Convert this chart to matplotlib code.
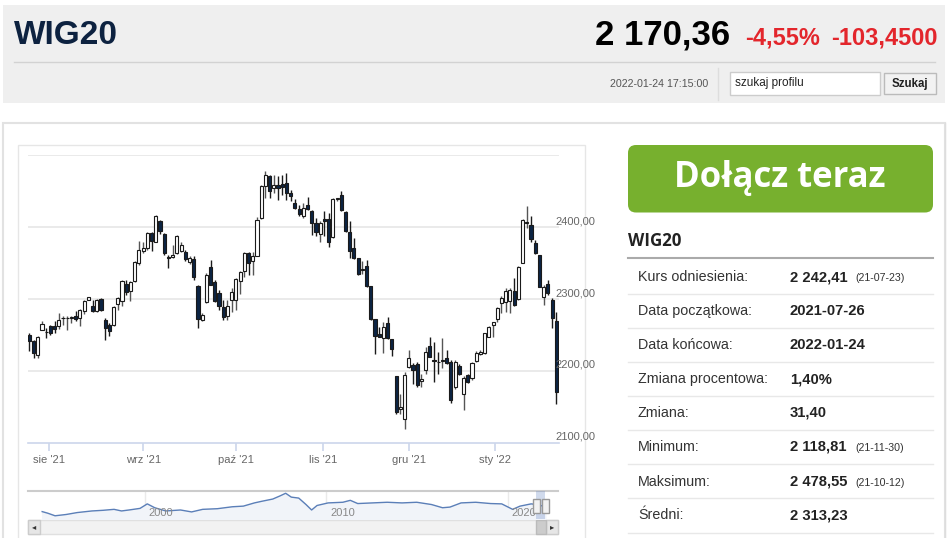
import matplotlib
matplotlib.use('Agg')
import matplotlib.pyplot as plt
from matplotlib.patches import Rectangle, FancyBboxPatch
import numpy as np
import pandas as pd

W, H = 948, 538

opens = [2250.5, 2241.0, 2222.7, 2257.4, 2254.5, 2262.0, 2262.0, 2262.0, 2273.0, 2273.0,
         2274.0, 2276.9, 2273.6, 2282.9, 2299.1, 2290.7, 2282.9, 2300.0, 2271.3, 2264.4,
         2264.4, 2293.1, 2296.8, 2321.3, 2310.6, 2324.5, 2350.0, 2366.2, 2370.8, 2391.7,
         2379.2, 2407.9, 2390.3, 2358.3, 2358.7, 2363.8, 2367.1, 2366.1, 2351.3, 2355.9,
         2317.4, 2271.0, 2295.6, 2345.2, 2323.4, 2308.1, 2288.6, 2277.0, 2298.8, 2298.8,
         2324.4, 2339.2, 2363.8, 2352.2, 2360.1, 2412.5, 2456.6, 2470.5, 2454.3, 2458.0,
         2459.9, 2461.3, 2447.3, 2434.0, 2425.6, 2415.4, 2430.3, 2422.4, 2406.1, 2391.1,
         2411.7, 2411.7, 2386.5, 2438.7, 2444.3, 2421.0, 2393.0, 2371.1, 2357.1, 2339.9,
         2346.4, 2317.5, 2271.8, 2251.3, 2245.2, 2267.1, 2243.8, 2192.5, 2147.0, 2133.3,
         2205.6, 2207.9, 2209.3, 2185.6, 2200.9, 2234.9, 2214.5, 2213.0, 2213.5, 2217.2,
         2212.6, 2177.7, 2206.5, 2168.4, 2194.0, 2190.7, 2214.0, 2223.3, 2225.1, 2246.5,
         2263.7, 2271.6, 2294.0, 2296.3, 2297.7, 2311.6, 2299.5, 2350.7, 2406.0, 2403.3,
         2378.6, 2361.4, 2303.3, 2320.9, 2298.6, 2269.8]
highs = [2252.8, 2242.6, 2249.1, 2269.0, 2259.7, 2264.4, 2269.0, 2280.6, 2275.9, 2276.9,
         2276.9, 2282.9, 2286.1, 2299.1, 2303.2, 2298.1, 2300.0, 2301.4, 2273.6, 2266.7,
         2289.8, 2302.8, 2326.9, 2325.9, 2324.5, 2352.3, 2380.1, 2378.7, 2392.6, 2392.6,
         2417.1, 2410.2, 2391.6, 2361.5, 2375.4, 2388.4, 2379.1, 2368.4, 2359.2, 2359.2,
         2318.8, 2280.3, 2336.0, 2354.5, 2326.7, 2312.8, 2298.8, 2298.8, 2316.0, 2329.0,
         2338.3, 2365.2, 2365.2, 2366.1, 2413.5, 2458.0, 2478.4, 2472.9, 2472.9, 2470.5,
         2472.9, 2475.2, 2452.0, 2438.7, 2430.3, 2433.1, 2442.4, 2423.8, 2413.1, 2408.4,
         2422.4, 2420.0, 2441.0, 2441.0, 2450.3, 2422.4, 2408.4, 2385.1, 2357.1, 2352.4,
         2354.8, 2317.5, 2271.8, 2261.5, 2268.5, 2275.5, 2243.8, 2192.5, 2168.3, 2198.6,
         2228.9, 2211.2, 2212.6, 2196.3, 2233.5, 2247.4, 2240.5, 2226.5, 2245.1, 2228.8,
         2214.9, 2214.9, 2210.2, 2192.6, 2196.3, 2212.6, 2227.9, 2228.8, 2253.0, 2262.3,
         2267.9, 2289.3, 2304.2, 2314.9, 2314.9, 2328.8, 2346.0, 2411.2, 2428.8, 2414.9,
         2382.3, 2361.4, 2319.5, 2326.5, 2300.9, 2282.3]
lows = [2227.3, 2218.1, 2218.1, 2256.5, 2245.8, 2250.5, 2252.8, 2258.3, 2264.4, 2257.4,
        2266.7, 2269.0, 2262.0, 2279.6, 2298.1, 2281.5, 2281.5, 2282.9, 2242.6, 2249.1,
        2262.0, 2284.3, 2289.8, 2306.0, 2296.8, 2323.1, 2347.7, 2363.9, 2367.6, 2366.2,
        2378.7, 2391.0, 2361.5, 2342.9, 2356.8, 2362.4, 2365.2, 2352.2, 2348.5, 2326.7,
        2260.3, 2269.6, 2294.2, 2318.8, 2295.6, 2284.9, 2271.0, 2271.0, 2282.6, 2284.9,
        2306.7, 2331.3, 2333.6, 2333.6, 2359.2, 2411.6, 2440.4, 2440.4, 2447.3, 2438.1,
        2445.0, 2438.1, 2436.7, 2424.7, 2415.4, 2413.1, 2423.8, 2389.7, 2387.4, 2379.0,
        2387.4, 2372.5, 2385.1, 2436.0, 2422.4, 2393.0, 2357.1, 2355.7, 2333.8, 2335.2,
        2316.6, 2270.9, 2223.3, 2246.6, 2225.2, 2243.8, 2220.5, 2140.3, 2140.3, 2118.8,
        2203.3, 2182.3, 2177.7, 2177.7, 2196.3, 2218.6, 2184.7, 2196.3, 2203.3, 2210.2,
        2155.3, 2175.3, 2194.0, 2145.1, 2183.3, 2187.0, 2212.6, 2221.9, 2223.3, 2247.4,
        2247.4, 2268.4, 2280.0, 2282.3, 2280.9, 2290.2, 2298.6, 2349.8, 2398.6, 2380.0,
        2362.8, 2316.3, 2291.6, 2305.6, 2259.1, 2154.4]
closes = [2241.2, 2225.0, 2246.8, 2265.7, 2253.5, 2252.8, 2258.3, 2271.3, 2274.0, 2274.0,
          2274.8, 2272.2, 2285.2, 2296.8, 2302.3, 2282.9, 2299.1, 2285.2, 2259.7, 2255.1,
          2288.9, 2301.4, 2325.5, 2309.3, 2323.1, 2350.9, 2367.6, 2370.8, 2391.7, 2380.1,
          2415.7, 2394.0, 2363.8, 2357.5, 2361.5, 2387.0, 2375.4, 2355.5, 2356.8, 2331.3,
          2272.4, 2278.0, 2333.6, 2319.7, 2297.4, 2289.6, 2275.6, 2289.6, 2310.4, 2328.1,
          2337.4, 2363.8, 2349.9, 2359.2, 2410.2, 2456.6, 2472.9, 2450.6, 2459.0, 2454.3,
          2455.2, 2447.3, 2442.7, 2427.0, 2417.7, 2427.0, 2425.6, 2406.1, 2393.0, 2406.1,
          2407.9, 2379.0, 2439.6, 2440.6, 2423.8, 2394.4, 2366.4, 2357.1, 2335.2, 2341.7,
          2317.5, 2271.8, 2248.5, 2247.6, 2260.6, 2245.2, 2229.8, 2142.7, 2149.0, 2193.9,
          2217.2, 2200.9, 2180.0, 2189.3, 2226.5, 2219.5, 2213.5, 2212.0, 2214.5, 2211.2,
          2160.0, 2212.6, 2195.3, 2190.7, 2184.7, 2211.2, 2225.1, 2226.5, 2252.1, 2261.4,
          2267.4, 2287.0, 2300.9, 2311.6, 2312.6, 2291.6, 2345.1, 2410.2, 2406.8, 2383.3,
          2364.7, 2317.2, 2317.2, 2308.8, 2273.0, 2170.4]

holidays = ['2021-11-01', '2021-11-11', '2021-12-24', '2021-12-31', '2022-01-06']
dates = pd.bdate_range('2021-07-26', '2022-01-24')
dates = dates[~dates.isin(pd.to_datetime(holidays))]

month_starts = ['2021-08-01', '2021-09-01', '2021-10-01', '2021-11-01', '2021-12-01', '2022-01-01']
month_labels = ["sie '21", "wrz '21", "paź '21", "lis '21", "gru '21", "sty '22"]
price_ticks = [2100, 2200, 2300, 2400]
grid_levels = [2200, 2300, 2400, 2500]

# nawigator - cala historia indeksu (odczyt z miniatury)
nav_years = [1994.35, 1994.66, 1995.06, 1995.67, 1996.28, 1997.09, 1997.70, 1998.31, 1998.72,
             1999.13, 1999.74, 2000.14, 2000.55, 2001.16, 2001.97, 2002.58, 2003.19, 2004.00,
             2004.82, 2005.43, 2006.04, 2006.44, 2007.05, 2007.46, 2007.76, 2008.07, 2008.48,
             2008.88, 2009.19, 2009.49, 2010.10, 2010.91, 2011.32, 2011.73, 2012.54, 2013.35,
             2014.17, 2014.98, 2015.79, 2016.40, 2016.81, 2017.42, 2018.23, 2019.05, 2019.66,
             2020.26, 2020.67, 2021.28, 2021.59, 2022.06]
nav_vals = [1538, 1331, 1000, 1166, 1414, 1621, 1704, 1828, 1621, 1745,
            1952, 2532, 2035, 1621, 1745, 1497, 1828, 1911, 2159, 2242,
            2656, 2863, 3153, 3567, 3898, 3401, 3277, 2449, 1745, 2325,
            2656, 2739, 2987, 2573, 2656, 2739, 2656, 2739, 2449, 2035,
            2118, 2656, 2739, 2573, 2532, 1828, 2242, 2532, 2449, 2170]
nav_year_ticks = [2000, 2010, 2020]

stat_labels = ['Kurs odniesienia:', 'Data początkowa:', 'Data końcowa:', 'Zmiana procentowa:',
               'Zmiana:', 'Minimum:', 'Maksimum:', 'Średni:']
stat_values = ['2 242,41', '2021-07-26', '2022-01-24', '1,40%', '31,40', '2 118,81', '2 478,55', '2 313,23']
stat_dates = ['(21-07-23)', '', '', '', '', '(21-11-30)', '(21-10-12)', '']

o = np.array(opens); h = np.array(highs); l = np.array(lows); c = np.array(closes)
n = len(o)
idx = np.arange(n)
assert len(dates) == n

SANS = ['Liberation Sans', 'DejaVu Sans']
OPEN = ['Open Sans', 'DejaVu Sans']

fig = plt.figure(figsize=(W / 100, H / 100), dpi=100)
fig.patch.set_facecolor('white')

# tlo strony w pikselach
bg = fig.add_axes([0, 0, 1, 1])
bg.set_xlim(0, W)
bg.set_ylim(H, 0)
bg.axis('off')


def px_axes(x0, y0, x1, y1):
    return fig.add_axes([x0 / W, 1 - y1 / H, (x1 - x0) / W, (y1 - y0) / H])


# naglowek
bg.add_patch(Rectangle((3, 5), 942, 98, facecolor='#efefef', edgecolor='none'))
bg.text(14, 35, 'WIG20', fontsize=24, fontweight='bold', color='#0d2240', family=SANS, va='center')
bg.text(730, 35, '2 170,36', fontsize=25, fontweight='bold', color='black', family=SANS, va='center', ha='right')
bg.text(745, 38, '-4,55%', fontsize=17, fontweight='bold', color='#e3262c', family=SANS, va='center')
bg.text(938, 38, '-103,4500', fontsize=17, fontweight='bold', color='#e3262c', family=SANS, va='center', ha='right')
bg.plot([14, 935], [62, 62], color='#d2d2d2', lw=1)
bg.plot([718, 718], [68, 100], color='#dddddd', lw=1)
bg.text(708, 84, '2022-01-24 17:15:00', fontsize=7.7, color='#555555', family=SANS, va='center', ha='right')
bg.add_patch(Rectangle((730, 72), 150, 23, facecolor='white', edgecolor='#cccccc', lw=1))
bg.text(735, 83, 'szukaj profilu', fontsize=8.5, color='#222222', family=SANS, va='center')
bg.add_patch(Rectangle((884, 73), 52, 21, facecolor='#f2f2f2', edgecolor='#bbbbbb', lw=1))
bg.text(910, 84, 'Szukaj', fontsize=8.3, fontweight='bold', color='#222222', family=SANS, va='center', ha='center')

# ramki tresci
bg.add_patch(Rectangle((3, 123), 942, 420, facecolor='white', edgecolor='#e2e2e2', lw=1.5))
bg.add_patch(Rectangle((18, 145), 567, 400, facecolor='white', edgecolor='#e6e6e6', lw=1))

# panel po prawej
bg.add_patch(FancyBboxPatch((628, 145), 305, 67.5, boxstyle='round,pad=0,rounding_size=8',
                            facecolor='#77b02e', edgecolor='none'))
bg.text(780, 178, 'Dołącz teraz', fontsize=25, fontweight='bold', color='white', family=OPEN,
        va='center', ha='center')
bg.text(628, 241, 'WIG20', fontsize=12.2, fontweight='bold', color='#222222', family=OPEN, va='center')
bg.plot([628, 933], [258.3, 258.3], color='#aaaaaa', lw=1.5)
row_y = [277, 311, 345, 379.5, 412.7, 446.7, 481.5, 515]
sep_y = [294, 328, 362, 396, 430, 464, 498, 532.7]
for lab, val, dt, ry, sy in zip(stat_labels, stat_values, stat_dates, row_y, sep_y):
    bg.text(638, ry, lab, fontsize=10.3, color='#333333', family=SANS, va='center')
    bg.text(790, ry, val, fontsize=10.6, fontweight='bold', color='#222222', family=SANS, va='center')
    if dt:
        bg.text(855, ry + 1, dt, fontsize=7.7, color='#333333', family=SANS, va='center')
    bg.plot([628, 933], [sy, sy], color='#e8e8e8', lw=1)

# wykres swiecowy
ax = px_axes(28, 155.3, 559, 442.7)
ax.patch.set_alpha(0)
ax.set_xlim(-0.31, 125.64)
ax.set_ylim(2100, 2500)
for g in grid_levels:
    ax.axhline(g, color='#e6e6e6', lw=1.2, zorder=0)
up = c >= o
body_lo = np.minimum(o, c)
body_h = np.maximum(np.abs(c - o), 0.6)
ax.vlines(idx, l, h, color=np.where(up, '#555555', '#1a1a1a'), lw=1, zorder=2)
ax.bar(idx, body_h, bottom=body_lo, width=0.74, color=np.where(up, 'white', '#0c2444'),
       edgecolor='#1a1a1a', linewidth=0.8, zorder=3)

for side in ['top', 'right', 'left']:
    ax.spines[side].set_visible(False)
ax.spines['bottom'].set_color('#ccd6eb')
ax.spines['bottom'].set_linewidth(1.2)
date_ns = dates.values.astype('int64')
tick_pos = np.interp(pd.to_datetime(month_starts).values.astype('int64'), date_ns, idx)
ax.set_xticks(tick_pos)
ax.set_xticklabels(month_labels)
ax.tick_params(axis='x', length=6, width=1.2, color='#ccd6eb', labelcolor='#666666',
               labelsize=8, pad=3)
for lab in ax.get_xticklabels():
    lab.set_family(SANS)
ax.set_yticks([])
for v in price_ticks:
    ax.annotate(f'{v},00', xy=(1, v), xycoords=ax.get_yaxis_transform(), xytext=(-4, 6),
                textcoords='offset pixels', ha='left', va='center', fontsize=8,
                color='#666666', family=SANS, annotation_clip=False)

# nawigator
nav = px_axes(28, 491, 558, 519)
nav.set_xlim(1993.57, 2022.76)
nav.set_ylim(586, 4188)
nav.fill_between(nav_years, nav_vals, 586, color='#f1f4f9', zorder=1)
nav.plot(nav_years, nav_vals, color='#5b7fb8', lw=1, zorder=2)
for yr in nav_year_ticks:
    nav.axvline(yr, color='#eaeaea', lw=1, zorder=0)
    nav.text(yr + 0.2, 586 + 0.2 * (4188 - 586), str(yr), fontsize=8, color='#888888', family=SANS,
             va='center', zorder=3)
sel0 = 2021 + (dates[0].dayofyear - 1) / 365
sel1 = 2022 + (dates[-1].dayofyear - 1) / 365
nav.axvspan(sel0, sel1, color='#6685c2', alpha=0.3, lw=0, zorder=3)
for sx in [sel0, sel1]:
    nav.add_patch(Rectangle((sx - 0.18, 1400), 0.36, 1700, facecolor='#f2f2f2', edgecolor='#999999',
                            lw=1, zorder=4))
for s in nav.spines.values():
    s.set_visible(False)
nav.spines['top'].set_visible(True)
nav.spines['top'].set_color('#cccccc')
nav.spines['top'].set_linewidth(1.5)
nav.set_xticks([])
nav.set_yticks([])
nav.patch.set_alpha(0)

# pasek przewijania
bg.add_patch(Rectangle((28, 520), 530, 14, facecolor='#f2f2f2', edgecolor='#e0e0e0', lw=1))
bg.add_patch(Rectangle((28, 520), 12, 14, facecolor='#e6e6e6', edgecolor='#cccccc', lw=1))
bg.add_patch(Rectangle((546, 520), 12, 14, facecolor='#e6e6e6', edgecolor='#cccccc', lw=1))
bg.add_patch(Rectangle((536, 520), 10, 14, facecolor='#cccccc', edgecolor='#bbbbbb', lw=1))
bg.text(34, 527, '◂', fontsize=6, color='#333333', ha='center', va='center')
bg.text(552, 527, '▸', fontsize=6, color='#333333', ha='center', va='center')

bg.plot([945, 945], [123, 538], color='#dddddd', lw=1)

fig.savefig('out.png', dpi=100)
